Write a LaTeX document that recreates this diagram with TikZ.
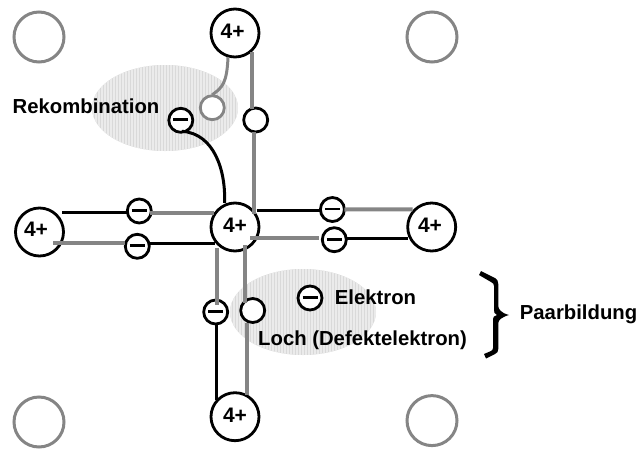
\documentclass[tikz,border=0pt]{standalone}
\usepackage{fontspec}
\setmainfont{Liberation Sans}
\usetikzlibrary{calc}
\definecolor{bondgray}{gray}{0.52}
\definecolor{cloud}{gray}{0.85}
\definecolor{cloudlight}{gray}{0.92}
\tikzset{
 x=1pt,y=-1pt,
 atom/.style={circle,draw=black,fill=white,line width=2.8pt,minimum size=48pt,inner sep=0pt},
 plus/.style={font=\bfseries\fontsize{21}{21}\selectfont,inner sep=0pt},
 vacant/.style={circle,draw=bondgray,fill=white,line width=3pt,minimum size=50pt,inner sep=0pt},
 small/.style={circle,draw=black,fill=white,line width=2.8pt,minimum size=24pt,inner sep=0pt},
 smallgray/.style={small,draw=bondgray},
 minus/.style={small,path picture={\draw[black,line width=2.8pt] ($(path picture bounding box.center)+(-7.5,-0.5)$) -- ($(path picture bounding box.center)+(7.5,-0.5)$);}},
 bk/.style={draw=black,line width=3pt},
 gy/.style={draw=bondgray,line width=4pt},
 lab/.style={font=\bfseries\fontsize{20.3}{20.3}\selectfont,inner sep=0pt},
}
\begin{document}
\begin{tikzpicture}
\useasboundingbox (0,0) rectangle (638,448);
\begin{scope}
\clip (165,108) ellipse [x radius=73,y radius=43];
\fill[cloud] (90,60) rectangle (240,155);
\foreach \sx in {90,93,...,240} \draw[cloudlight,line width=1.2pt] (\sx,60) -- (\sx,155);
\end{scope}
\begin{scope}
\clip (303,312) ellipse [x radius=73,y radius=43];
\fill[cloud] (228,265) rectangle (378,358);
\foreach \sx in {228,231,...,378} \draw[cloudlight,line width=1.2pt] (\sx,265) -- (\sx,358);
\end{scope}
\node[vacant] (v1) at (39,37) {};
\node[vacant] (v2) at (432,37) {};
\node[vacant] (v3) at (39,422) {};
\node[vacant] (v4) at (432,420.6) {};
\node[atom] (t) at (235,33) {};
\node[atom] (c) at (235,227) {};
\node[atom] (l) at (39.5,232) {};
\node[atom] (r) at (431.7,227) {};
\node[atom] (b) at (235,416.7) {};
\node[plus] (pt) at (232.7,31) {4+};
\node[plus] (pc) at (235,225) {4+};
\node[plus] (pl) at (36,229) {4+};
\node[plus] (pr) at (430,225) {4+};
\node[plus] (pb) at (235,415) {4+};
\node[minus] (e0) at (180.8,120.3) {};
\node[smallgray] (h0) at (212.3,107.7) {};
\node[small] (h1) at (255.7,120) {};
\node[minus] (e1) at (139.3,211) {};
\node[minus] (e2) at (137.3,246.3) {};
\node[minus] (e3) at (332.4,209.5) {};
\node[minus] (e4) at (334.3,239.7) {};
\node[minus] (e5) at (215.7,312) {};
\node[small] (h2) at (252.7,310.5) {};
\node[minus] (e6) at (310,298) {};
% top
\draw[gy,line width=3pt] ($(t.center)+(-7,24)$) .. controls ($(t.center)+(-8,50)$) and ($(h0.center)+(10,-20)$) .. ($(h0.center)+(0,-13)$);
\draw[gy] ($(t.center)+(17.3,19)$) -- ($(h1.center)+(-3.4,-11)$);
\draw[gy] ($(h1.center)+(-1.4,12)$) -- ($(c.center)+(19.3,-13)$);
\draw[bk] ($(e0.center)+(1,11)$) .. controls ($(e0.center)+(34,13)$) and ($(c.center)+(-9,-55)$) .. ($(c.center)+(-10.5,-24)$);
% left
\draw[bk] ($(l.center)+(22.5,-19.3)$) -- ($(e1.center)+(-12,1.7)$);
\draw[gy] ($(e1.center)+(11,1.7)$) -- ($(c.center)+(-21,-14.3)$);
\draw[gy] ($(l.center)+(13.5,11.3)$) -- ($(e2.center)+(-12,-3)$);
\draw[bk] ($(e2.center)+(12,-3)$) -- ($(c.center)+(-20,16.3)$);
% right
\draw[bk] ($(c.center)+(21.7,-16.3)$) -- ($(e3.center)+(-12,1.2)$);
\draw[gy] ($(e3.center)+(12,0)$) -- ($(r.center)+(-19,-17.7)$);
\draw[gy] ($(c.center)+(15,11.3)$) -- ($(e4.center)+(-15,-1.4)$);
\draw[bk] ($(e4.center)+(12,-1.4)$) -- ($(r.center)+(-24,11.3)$);
% bottom
\draw[gy] ($(c.center)+(-17.7,21)$) -- ($(e5.center)+(1.6,-7)$);
\draw[bk] ($(e5.center)+(0.3,12)$) -- ($(b.center)+(-19,-16.7)$);
\draw[gy] ($(c.center)+(10.3,18)$) -- ($(h2.center)+(-7.4,-7.5)$);
\draw[gy] ($(h2.center)+(-5.4,12)$) -- ($(b.center)+(12.3,-21.7)$);
% labels
\node[lab,anchor=west] (n1) at (12.5,106) {Rekombination};
\node[lab,anchor=west] (n2) at (334.7,297) {Elektron};
\node[lab,anchor=west] (n3) at (258,340.5) {Loch (Defektelektron)};
\node[lab,anchor=west] (n4) at (519.7,314) {Paarbildung};
\fill[black] (481,271) -- (495,278) .. controls (497,279) and (498.3,281) .. (498.3,284) -- (498.3,306) .. controls (498.3,309) and (501,313) .. (509,315) .. controls (502,317) and (498.3,320) .. (498.3,323) -- (498.3,349) .. controls (498.3,352) and (497,353) .. (495,354) -- (486,358.5) -- (484,354) -- (491,351) .. controls (492.5,350) and (493,349.5) .. (493,348) -- (493,319) .. controls (493,317) and (494,316) .. (497,315) .. controls (494,314) and (494,312) .. (494,309) -- (494,286) .. controls (494,284) and (493,283) .. (491,282) -- (479,275) -- cycle;
\end{tikzpicture}
\end{document}
